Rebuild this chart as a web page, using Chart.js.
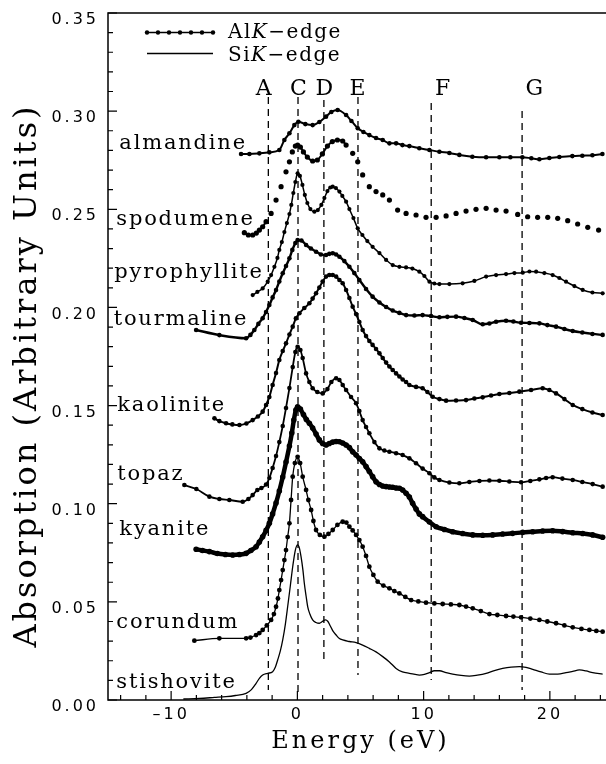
<!DOCTYPE html>
<html>
<head>
<meta charset="utf-8">
<title>Al and Si K-edge XANES</title>
<script src="https://cdn.jsdelivr.net/npm/chart.js@4.4.1/dist/chart.umd.min.js"></script>
<style>
  html, body { margin: 0; padding: 0; background: #fff; overflow: hidden; }
  #wrap { width: 620px; height: 764px; }
</style>
</head>
<body>
<div id="wrap"><canvas id="xanesChart"></canvas></div>
<script>
// ---------------------- EJES ----------------------
const energyMin = -15;
const energyMax = 25;
const absMin = 0;
const absMax = 0.35;
const energyTicks = [-10, 0, 10, 20];
const absTicks = [0, 0.05, 0.10, 0.15, 0.20, 0.25, 0.30, 0.35];

// ---------------------- MUESTRAS ----------------------
const samples = ["almandine", "spodumene", "pyrophyllite", "tourmaline", "kaolinite",
                 "topaz", "kyanite", "corundum", "stishovite"];

const almandineE = [-4.46, -3.80, -3.01, -2.22, -1.43, -1.03, -0.63, -0.24, 0.08, 0.63, 1.21, 1.74, 2.27, 2.69, 3.19, 3.86, 4.28, 4.78, 5.23, 5.70, 6.23, 6.76, 7.29, 7.82, 8.32, 8.87, 9.66, 10.46, 11.25, 12.04, 12.83, 13.86, 14.95, 16.00, 16.87, 17.82, 18.53, 19.17, 19.96, 20.75, 21.78, 22.57, 23.37, 24.16];
const almandineA = [0.2782, 0.2782, 0.2785, 0.2790, 0.2802, 0.2853, 0.2887, 0.2929, 0.2946, 0.2934, 0.2929, 0.2945, 0.2972, 0.2996, 0.3006, 0.2980, 0.2950, 0.2913, 0.2894, 0.2878, 0.2863, 0.2853, 0.2836, 0.2836, 0.2827, 0.2822, 0.2811, 0.2802, 0.2793, 0.2787, 0.2777, 0.2768, 0.2765, 0.2765, 0.2765, 0.2765, 0.2760, 0.2755, 0.2761, 0.2766, 0.2771, 0.2773, 0.2775, 0.2782];

const spodumeneE = [-4.20, -3.88, -3.54, -3.25, -3.01, -2.75, -2.48, -2.08, -1.69, -1.29, -0.90, -0.63, -0.40, -0.16, 0.02, 0.24, 0.48, 0.79, 1.21, 1.58, 1.98, 2.38, 2.77, 3.17, 3.59, 3.86, 4.38, 4.78, 5.17, 5.70, 6.23, 6.76, 7.29, 7.94, 8.61, 9.40, 10.19, 10.99, 11.78, 12.57, 13.36, 14.15, 14.95, 15.74, 16.53, 17.45, 18.24, 19.03, 19.83, 20.62, 21.41, 22.20, 23.00, 23.86];
const spodumeneA = [0.2381, 0.2369, 0.2369, 0.2379, 0.2394, 0.2411, 0.2437, 0.2479, 0.2547, 0.2615, 0.2691, 0.2742, 0.2792, 0.2822, 0.2827, 0.2817, 0.2792, 0.2766, 0.2746, 0.2751, 0.2782, 0.2822, 0.2845, 0.2853, 0.2848, 0.2827, 0.2785, 0.2742, 0.2675, 0.2615, 0.2590, 0.2573, 0.2547, 0.2496, 0.2479, 0.2471, 0.2459, 0.2459, 0.2466, 0.2479, 0.2491, 0.2500, 0.2505, 0.2496, 0.2491, 0.2474, 0.2462, 0.2459, 0.2459, 0.2454, 0.2442, 0.2425, 0.2408, 0.2394];

const pyrophylliteE = [-3.54, -3.17, -2.75, -2.35, -2.08, -1.82, -1.58, -1.43, -1.23, -1.03, -0.83, -0.63, -0.48, -0.32, -0.16, 0.02, 0.20, 0.40, 0.59, 0.79, 1.03, 1.35, 1.62, 1.90, 2.14, 2.38, 2.61, 2.80, 3.05, 3.33, 3.56, 3.86, 4.12, 4.44, 4.78, 5.15, 5.54, 5.96, 6.50, 7.03, 7.55, 8.08, 8.61, 9.11, 9.66, 10.06, 10.46, 10.85, 11.25, 12.04, 13.09, 14.02, 14.95, 15.74, 16.53, 17.19, 17.85, 18.38, 18.91, 19.56, 20.22, 20.75, 21.28, 21.94, 22.60, 23.37, 24.18];
const pyrophylliteA = [0.2063, 0.2079, 0.2097, 0.2131, 0.2165, 0.2207, 0.2252, 0.2293, 0.2333, 0.2384, 0.2430, 0.2476, 0.2522, 0.2583, 0.2639, 0.2683, 0.2670, 0.2624, 0.2573, 0.2532, 0.2501, 0.2488, 0.2496, 0.2522, 0.2557, 0.2593, 0.2611, 0.2615, 0.2608, 0.2590, 0.2568, 0.2539, 0.2501, 0.2455, 0.2403, 0.2369, 0.2338, 0.2309, 0.2277, 0.2242, 0.2216, 0.2207, 0.2204, 0.2198, 0.2182, 0.2160, 0.2131, 0.2122, 0.2119, 0.2119, 0.2123, 0.2135, 0.2157, 0.2165, 0.2170, 0.2175, 0.2177, 0.2183, 0.2182, 0.2175, 0.2165, 0.2150, 0.2131, 0.2109, 0.2089, 0.2076, 0.2072];

const tourmalineE = [-8.02, -6.18, -4.06, -3.72, -3.41, -3.09, -2.75, -2.48, -2.22, -1.96, -1.69, -1.43, -1.16, -0.90, -0.63, -0.40, -0.16, 0.02, 0.32, 0.69, 1.07, 1.48, 1.86, 2.27, 2.53, 2.80, 3.07, 3.33, 3.72, 4.12, 4.51, 4.91, 5.44, 5.96, 6.50, 7.03, 7.55, 8.08, 8.61, 9.27, 9.92, 10.59, 11.25, 11.88, 12.57, 13.23, 13.89, 14.68, 15.21, 15.74, 16.53, 17.11, 17.72, 18.38, 19.17, 19.80, 20.49, 21.15, 21.81, 22.57, 23.37, 24.18];
const tourmalineA = [0.1885, 0.1859, 0.1843, 0.1860, 0.1885, 0.1916, 0.1945, 0.1977, 0.2012, 0.2051, 0.2089, 0.2132, 0.2174, 0.2211, 0.2250, 0.2293, 0.2328, 0.2343, 0.2341, 0.2318, 0.2300, 0.2284, 0.2270, 0.2267, 0.2273, 0.2276, 0.2270, 0.2258, 0.2236, 0.2207, 0.2175, 0.2140, 0.2094, 0.2055, 0.2025, 0.2002, 0.1984, 0.1972, 0.1961, 0.1959, 0.1961, 0.1956, 0.1950, 0.1952, 0.1953, 0.1946, 0.1936, 0.1914, 0.1918, 0.1927, 0.1932, 0.1928, 0.1922, 0.1921, 0.1919, 0.1910, 0.1902, 0.1890, 0.1880, 0.1872, 0.1865, 0.1860];

const kaoliniteE = [-6.57, -6.18, -5.65, -5.15, -4.59, -4.04, -3.54, -3.13, -2.75, -2.48, -2.22, -1.96, -1.69, -1.43, -1.16, -0.90, -0.63, -0.37, -0.12, 0.16, 0.55, 0.95, 1.21, 1.48, 1.74, 2.00, 2.27, 2.53, 2.80, 3.07, 3.33, 3.59, 3.86, 4.12, 4.38, 4.65, 4.91, 5.17, 5.44, 5.70, 5.96, 6.23, 6.50, 6.76, 7.03, 7.29, 7.55, 7.82, 8.08, 8.34, 8.61, 8.87, 9.40, 9.92, 10.30, 10.72, 11.25, 11.78, 12.57, 13.36, 14.02, 14.68, 15.34, 16.00, 16.79, 17.58, 18.51, 19.43, 19.96, 20.49, 21.15, 21.81, 22.57, 23.37, 24.18];
const kaoliniteA = [0.1435, 0.1421, 0.1410, 0.1404, 0.1401, 0.1409, 0.1426, 0.1444, 0.1469, 0.1503, 0.1544, 0.1605, 0.1666, 0.1732, 0.1778, 0.1817, 0.1862, 0.1902, 0.1944, 0.1970, 0.1997, 0.2021, 0.2045, 0.2072, 0.2101, 0.2132, 0.2157, 0.2165, 0.2165, 0.2157, 0.2140, 0.2123, 0.2089, 0.2048, 0.2004, 0.1966, 0.1926, 0.1885, 0.1854, 0.1829, 0.1809, 0.1788, 0.1766, 0.1742, 0.1719, 0.1699, 0.1681, 0.1664, 0.1648, 0.1633, 0.1620, 0.1605, 0.1595, 0.1588, 0.1569, 0.1545, 0.1533, 0.1525, 0.1526, 0.1528, 0.1536, 0.1542, 0.1551, 0.1559, 0.1564, 0.1571, 0.1579, 0.1588, 0.1579, 0.1562, 0.1533, 0.1503, 0.1482, 0.1465, 0.1452];

const topazE = [-8.95, -8.00, -6.97, -6.18, -5.39, -4.33, -3.88, -3.54, -3.17, -2.85, -2.48, -2.22, -1.96, -1.69, -1.43, -1.16, -0.90, -0.63, -0.37, -0.16, 0.02, 0.24, 0.42, 0.69, 0.95, 1.21, 1.58, 2.00, 2.38, 2.69, 3.07, 3.33, 3.59, 3.86, 4.25, 4.65, 4.91, 5.17, 5.44, 5.70, 6.10, 6.50, 6.89, 7.29, 7.82, 8.34, 8.87, 9.40, 9.92, 10.46, 10.85, 11.25, 12.04, 12.83, 13.62, 14.42, 15.21, 16.00, 16.79, 17.72, 18.45, 19.17, 19.70, 20.22, 20.99, 21.81, 22.57, 23.39, 24.18];
const topazA = [0.1095, 0.1075, 0.1036, 0.1024, 0.1019, 0.1010, 0.1024, 0.1044, 0.1070, 0.1080, 0.1098, 0.1131, 0.1182, 0.1243, 0.1314, 0.1396, 0.1488, 0.1589, 0.1696, 0.1773, 0.1800, 0.1783, 0.1742, 0.1664, 0.1620, 0.1588, 0.1569, 0.1562, 0.1584, 0.1620, 0.1639, 0.1630, 0.1605, 0.1579, 0.1544, 0.1512, 0.1472, 0.1426, 0.1391, 0.1359, 0.1314, 0.1282, 0.1271, 0.1265, 0.1257, 0.1248, 0.1231, 0.1206, 0.1179, 0.1155, 0.1134, 0.1121, 0.1108, 0.1104, 0.1111, 0.1116, 0.1118, 0.1117, 0.1113, 0.1109, 0.1116, 0.1124, 0.1131, 0.1135, 0.1128, 0.1121, 0.1111, 0.1100, 0.1087];

const kyaniteE = [-8.02, -7.52, -6.97, -6.34, -5.70, -5.12, -4.59, -4.06, -3.68, -3.27, -3.01, -2.75, -2.48, -2.22, -1.96, -1.69, -1.43, -1.16, -0.90, -0.63, -0.44, -0.28, -0.12, 0.02, 0.24, 0.48, 0.71, 0.95, 1.21, 1.48, 1.74, 2.00, 2.27, 2.53, 2.80, 3.07, 3.33, 3.59, 3.86, 4.12, 4.38, 4.65, 4.91, 5.17, 5.44, 5.70, 5.96, 6.23, 6.50, 6.76, 7.03, 7.29, 7.55, 7.82, 8.08, 8.34, 8.61, 8.87, 9.13, 9.40, 9.66, 9.92, 10.46, 10.99, 11.64, 12.30, 13.09, 13.89, 14.68, 15.47, 16.26, 17.05, 17.85, 18.64, 19.43, 20.22, 21.01, 21.81, 22.60, 23.39, 24.18];
const kyaniteA = [0.0768, 0.0762, 0.0756, 0.0746, 0.0741, 0.0739, 0.0741, 0.0747, 0.0762, 0.0781, 0.0805, 0.0832, 0.0864, 0.0900, 0.0948, 0.1004, 0.1065, 0.1136, 0.1212, 0.1294, 0.1360, 0.1426, 0.1477, 0.1494, 0.1482, 0.1454, 0.1429, 0.1410, 0.1386, 0.1355, 0.1325, 0.1307, 0.1299, 0.1307, 0.1314, 0.1317, 0.1316, 0.1309, 0.1299, 0.1286, 0.1265, 0.1248, 0.1230, 0.1214, 0.1189, 0.1164, 0.1138, 0.1112, 0.1098, 0.1090, 0.1087, 0.1085, 0.1084, 0.1080, 0.1079, 0.1070, 0.1053, 0.1034, 0.1002, 0.0973, 0.0948, 0.0934, 0.0907, 0.0883, 0.0869, 0.0857, 0.0848, 0.0841, 0.0839, 0.0841, 0.0846, 0.0849, 0.0854, 0.0857, 0.0861, 0.0862, 0.0858, 0.0852, 0.0848, 0.0841, 0.0829];

const corundumE = [-8.16, -6.18, -4.06, -3.72, -3.27, -3.01, -2.75, -2.42, -2.08, -1.86, -1.69, -1.54, -1.43, -1.29, -1.16, -1.03, -0.90, -0.77, -0.63, -0.50, -0.37, -0.20, 0.02, 0.22, 0.42, 0.69, 0.87, 1.09, 1.27, 1.48, 1.78, 2.14, 2.46, 2.80, 3.17, 3.59, 3.88, 4.12, 4.38, 4.65, 4.91, 5.17, 5.44, 5.70, 6.02, 6.36, 6.81, 7.29, 7.68, 8.08, 8.55, 9.01, 9.58, 10.19, 10.85, 11.51, 12.16, 12.83, 13.36, 13.89, 14.53, 15.21, 15.84, 16.53, 17.11, 17.72, 18.45, 19.17, 19.80, 20.49, 21.15, 21.81, 22.50, 23.13, 23.68, 24.18];
const corundumA = [0.0302, 0.0314, 0.0314, 0.0318, 0.0331, 0.0341, 0.0357, 0.0380, 0.0408, 0.0438, 0.0475, 0.0517, 0.0560, 0.0611, 0.0662, 0.0713, 0.0764, 0.0830, 0.0900, 0.1019, 0.1138, 0.1207, 0.1239, 0.1207, 0.1138, 0.1070, 0.1019, 0.0968, 0.0912, 0.0866, 0.0841, 0.0832, 0.0846, 0.0866, 0.0892, 0.0908, 0.0904, 0.0883, 0.0864, 0.0841, 0.0815, 0.0781, 0.0734, 0.0679, 0.0637, 0.0603, 0.0583, 0.0569, 0.0555, 0.0543, 0.0525, 0.0509, 0.0502, 0.0496, 0.0492, 0.0489, 0.0487, 0.0484, 0.0476, 0.0467, 0.0453, 0.0438, 0.0433, 0.0428, 0.0425, 0.0421, 0.0415, 0.0408, 0.0400, 0.0391, 0.0380, 0.0370, 0.0362, 0.0357, 0.0352, 0.0348];

// Si K-edge (linea continua, sin puntos)
const stishoviteE = [-9.03, -7.76, -6.57, -5.65, -4.91, -4.06, -3.64, -3.27, -3.01, -2.75, -2.35, -1.96, -1.74, -1.56, -1.35, -1.16, -0.95, -0.77, -0.55, -0.37, -0.16, 0.02, 0.16, 0.29, 0.44, 0.55, 0.69, 0.82, 0.99, 1.21, 1.47, 1.74, 1.98, 2.22, 2.42, 2.61, 2.81, 3.07, 3.33, 3.59, 4.12, 4.65, 5.17, 5.70, 6.23, 6.76, 7.29, 7.82, 8.32, 8.87, 9.66, 10.06, 10.46, 10.85, 11.25, 11.78, 12.30, 12.97, 13.62, 14.26, 14.95, 15.60, 16.26, 16.93, 17.58, 18.11, 18.64, 19.30, 19.96, 20.62, 21.28, 21.81, 22.34, 22.87, 23.39, 24.18];
const stishoviteA = [0.0005, 0.0008, 0.0013, 0.0017, 0.0023, 0.0034, 0.0053, 0.0085, 0.0110, 0.0127, 0.0136, 0.0144, 0.0168, 0.0204, 0.0250, 0.0306, 0.0387, 0.0475, 0.0586, 0.0679, 0.0764, 0.0790, 0.0774, 0.0730, 0.0662, 0.0595, 0.0530, 0.0475, 0.0438, 0.0408, 0.0395, 0.0391, 0.0400, 0.0408, 0.0400, 0.0377, 0.0352, 0.0331, 0.0313, 0.0306, 0.0298, 0.0292, 0.0280, 0.0263, 0.0245, 0.0221, 0.0194, 0.0161, 0.0143, 0.0136, 0.0127, 0.0130, 0.0139, 0.0149, 0.0149, 0.0140, 0.0132, 0.0125, 0.0122, 0.0127, 0.0136, 0.0150, 0.0161, 0.0168, 0.0170, 0.0166, 0.0156, 0.0143, 0.0132, 0.0132, 0.0139, 0.0146, 0.0153, 0.0148, 0.0139, 0.0132];

// ---------------------- RASGOS (lineas discontinuas) ----------------------
const featureNames = ["A", "C", "D", "E", "F", "G"];
const featureEnergy = [-2.3, 0.05, 2.1, 4.8, 10.6, 17.8];
const featureTop = [0.3072, 0.3072, 0.3057, 0.3072, 0.3041, 0.3001];
const featureBottom = [0.0051, 0.0025, 0.0190, 0.0127, 0.0102, 0.0051];

// ---------------------- ESTILO / POSICIONES ----------------------
const seriesE = { almandine: almandineE, spodumene: spodumeneE, pyrophyllite: pyrophylliteE,
  tourmaline: tourmalineE, kaolinite: kaoliniteE, topaz: topazE, kyanite: kyaniteE,
  corundum: corundumE, stishovite: stishoviteE };
const seriesA = { almandine: almandineA, spodumene: spodumeneA, pyrophyllite: pyrophylliteA,
  tourmaline: tourmalineA, kaolinite: kaoliniteA, topaz: topazA, kyanite: kyaniteA,
  corundum: corundumA, stishovite: stishoviteA };

const curveStyle = {
  almandine:    { width: 2.0, dot: 2.3 },
  spodumene:    { width: 2.0, dot: 2.6, gaps: true },
  pyrophyllite: { width: 1.5, dot: 2.1 },
  tourmaline:   { width: 2.4, dot: 2.3 },
  kaolinite:    { width: 2.0, dot: 2.3 },
  topaz:        { width: 1.8, dot: 2.3 },
  kyanite:      { width: 4.5, dot: 2.8 },
  corundum:     { width: 1.3, dot: 2.4 },
  stishovite:   { width: 1.3, dot: 0 }
};

// [energia, absorcion] de la linea base de cada nombre
const labelAnchor = {
  almandine: [-14.10, 0.2807], spodumene: [-14.34, 0.2420], pyrophyllite: [-14.50, 0.2150],
  tourmaline: [-14.55, 0.1911], kaolinite: [-14.26, 0.1472], topaz: [-14.26, 0.1121],
  kyanite: [-14.10, 0.0841], corundum: [-14.34, 0.0367], stishovite: [-14.34, 0.0061]
};
const featureLabelEnergy = [-2.67, 0.08, 2.14, 4.77, 11.5, 18.77];
const featureLabelA = 0.3082;

function toPoints(E, A) {
  const n = Math.min(E.length, A.length);
  const pts = [];
  for (let i = 0; i < n; i++) pts.push({ x: E[i], y: A[i] });
  return pts;
}

// ---------------------- DATASETS ----------------------
const curveSets = samples.map((name) => {
  const st = curveStyle[name];
  const ds = {
    label: name,
    data: toPoints(seriesE[name], seriesA[name]),
    borderColor: "#000",
    backgroundColor: "#000",
    borderWidth: st.width,
    pointRadius: st.dot,
    pointBorderWidth: 0,
    pointBackgroundColor: "#000",
    cubicInterpolationMode: "monotone",
    order: 1
  };
  if (st.gaps) {
    // puntos sueltos salvo en el pie y en la zona del pico
    ds.segment = {
      borderColor: (ctx) => {
        const a = ctx.p0.parsed.x, b = ctx.p1.parsed.x;
        return (b <= -2.2 || (a >= -0.2 && b <= 3.9)) ? "#000" : "rgba(0,0,0,0)";
      }
    };
  }
  return ds;
});

const featureSets = featureNames.map((n, i) => ({
  label: "rasgo " + n,
  data: [{ x: featureEnergy[i], y: featureTop[i] }, { x: featureEnergy[i], y: featureBottom[i] }],
  borderColor: "#000",
  borderWidth: 1.3,
  borderDash: [7, 5],
  pointRadius: 0,
  tension: 0,
  order: 10
}));

// ---------------------- TEXTOS, MARCO Y MARCAS ----------------------
const overlay = {
  id: "overlay",
  beforeDraw(chart) {
    chart.ctx.letterSpacing = "3px"; // titulos de ejes
  },
  afterDatasetsDraw(chart) {
    const { ctx, chartArea: ca } = chart;
    const x = chart.scales.x, y = chart.scales.y;
    ctx.save();
    ctx.fillStyle = "#000";
    ctx.strokeStyle = "#000";

    // nombres de las muestras
    ctx.font = '21px "DejaVu Serif"';
    ctx.letterSpacing = "1.8px";
    ctx.textAlign = "left";
    ctx.textBaseline = "alphabetic";
    samples.forEach((name) => {
      const p = labelAnchor[name];
      ctx.fillText(name, x.getPixelForValue(p[0]), y.getPixelForValue(p[1]));
    });

    // letras de los rasgos
    ctx.font = '22px "DejaVu Serif"';
    ctx.letterSpacing = "0px";
    ctx.textAlign = "center";
    featureNames.forEach((n, i) => {
      ctx.fillText(n, x.getPixelForValue(featureLabelEnergy[i]), y.getPixelForValue(featureLabelA));
    });

    // leyenda
    const lx0 = ca.left + 39, lx1 = ca.left + 105;
    const ly1 = ca.top + 19.5, ly2 = ca.top + 40.5;
    ctx.lineWidth = 1.6;
    ctx.beginPath(); ctx.moveTo(lx0, ly1); ctx.lineTo(lx1, ly1); ctx.stroke();
    for (let k = 0; k < 7; k++) {
      ctx.beginPath();
      ctx.arc(lx0 + k * (lx1 - lx0) / 6, ly1, 2.2, 0, Math.PI * 2);
      ctx.fill();
    }
    ctx.lineWidth = 1.3;
    ctx.beginPath(); ctx.moveTo(lx0, ly2); ctx.lineTo(lx1, ly2); ctx.stroke();

    ctx.textAlign = "left";
    ctx.letterSpacing = "1.5px";
    const legendText = (pre, yy) => {
      let tx = ca.left + 120;
      ctx.font = '20px "DejaVu Serif"';
      ctx.fillText(pre, tx, yy); tx += ctx.measureText(pre).width;
      ctx.font = 'italic 20px "DejaVu Serif"';
      ctx.fillText("K", tx, yy); tx += ctx.measureText("K").width;
      ctx.font = '20px "DejaVu Serif"';
      ctx.fillText("\u2212edge", tx, yy);
    };
    legendText("Al", ly1 + 5.5);
    legendText("Si", ly2 + 7);

    // marco
    ctx.lineWidth = 1.5;
    ctx.strokeRect(ca.left, ca.top, ca.right - ca.left, ca.bottom - ca.top);

    // marcas hacia dentro
    ctx.lineWidth = 1.2;
    ctx.beginPath();
    for (let v = 0; v <= 35; v++) {
      const py = y.getPixelForValue(v / 100);
      const len = v % 5 === 0 ? 9 : 5;
      ctx.moveTo(ca.left, py); ctx.lineTo(ca.left + len, py);
    }
    for (let e = -14; e <= 24; e += 2) {
      const px = x.getPixelForValue(e);
      const len = e % 10 === 0 ? 9 : 5;
      ctx.moveTo(px, ca.bottom); ctx.lineTo(px, ca.bottom - len);
    }
    ctx.stroke();
    ctx.restore();

    ctx.letterSpacing = "3px"; // numeros de los ejes (z: 1)
  },
  afterDraw(chart) {
    chart.ctx.letterSpacing = "0px";
  }
};

// ---------------------- GRAFICO ----------------------
new Chart(document.getElementById("xanesChart"), {
  type: "line",
  data: { datasets: curveSets.concat(featureSets) },
  options: {
    responsive: true,
    maintainAspectRatio: false,
    animation: false,
    layout: { padding: { left: 0, top: 13, right: 7, bottom: 0 } },
    plugins: { legend: { display: false }, tooltip: { enabled: false } },
    scales: {
      x: {
        type: "linear",
        min: energyMin,
        max: energyMax,
        afterBuildTicks: (s) => { s.ticks = energyTicks.map((v) => ({ value: v })); },
        afterFit: (s) => { s.height = 64; s.paddingLeft = 0; s.paddingRight = 0; },
        grid: { display: false, drawTicks: false },
        border: { display: false },
        ticks: {
          z: 1,
          padding: 5,
          color: "#000",
          autoSkip: false,
          maxRotation: 0,
          font: { family: "DejaVu Sans", size: 16 },
          callback: (v) => (v < 0 ? "\u2013" + Math.abs(v) : String(v))
        },
        title: {
          display: true,
          text: "Energy (eV)",
          color: "#000",
          font: { family: "DejaVu Serif", size: 24 },
          padding: { top: 0, bottom: 8 }
        }
      },
      y: {
        type: "linear",
        min: absMin,
        max: absMax,
        afterBuildTicks: (s) => { s.ticks = absTicks.map((v) => ({ value: v })); },
        afterFit: (s) => { s.width = 108; s.paddingTop = 0; s.paddingBottom = 0; },
        grid: { display: false, drawTicks: false },
        border: { display: false },
        ticks: {
          z: 1,
          padding: 9,
          labelOffset: 7,
          color: "#000",
          autoSkip: false,
          font: { family: "DejaVu Sans", size: 16 },
          callback: (v) => v.toFixed(2)
        },
        title: {
          display: true,
          text: "Absorption (Arbitrary Units)\u2002\u2002",
          color: "#000",
          font: { family: "DejaVu Serif", size: 32 },
          padding: { top: 8, bottom: 0 }
        }
      }
    }
  },
  plugins: [overlay]
});
</script>
</body>
</html>
